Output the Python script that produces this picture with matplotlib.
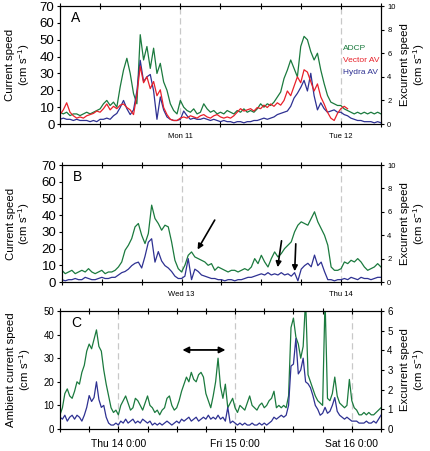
import numpy as np
import matplotlib
matplotlib.use('Agg')
import matplotlib.pyplot as plt

plt.rcParams['font.family'] = ['Liberation Sans', 'DejaVu Sans']
plt.rcParams['mathtext.default'] = 'regular'

GREEN = '#1b7a3e'
RED = '#e8212a'
BLUE = '#2e3192'

# all series sampled every 30 min, hours counted from the left edge of each panel
step = 0.5

# panel A: Sun 10 06:00 -> Tue 12 06:00
a_adcp = [7, 6, 7, 5, 6, 6, 5, 6, 7, 6, 7, 8,
          9, 12, 14, 11, 13, 10, 22, 32, 39, 30, 18, 12,
          53, 38, 46, 33, 45, 30, 36, 25, 20, 12, 8, 6,
          14, 10, 8, 7, 9, 6, 7, 12, 9, 7, 8, 6,
          7, 6, 8, 7, 6, 8, 7, 9, 7, 8, 7, 9,
          12, 10, 12, 11, 13, 16, 19, 27, 32, 38, 33, 28,
          46, 52, 50, 43, 38, 42, 32, 24, 17, 13, 12, 11,
          11, 9, 8, 7, 6, 7, 6, 7, 6, 7, 6, 7,
          6]
a_vector = [0.8, 1.2, 1.8, 1.0, 0.7, 0.5, 0.6, 0.5, 0.7, 0.8, 0.9, 1.1,
            1.0, 1.3, 1.7, 1.2, 1.5, 1.3, 1.6, 1.7, 1.4, 1.2, 0.8, 2.5,
            4.9, 3.5, 4.0, 3.0, 3.6, 2.4, 2.9, 1.4, 0.8, 0.4, 0.3, 0.3,
            0.5, 0.6, 0.5, 0.7, 0.6, 0.5, 0.7, 0.8, 0.6, 0.5, 0.7, 0.8,
            0.6, 0.5, 0.6, 0.5, 0.7, 1.0, 1.3, 1.1, 1.2, 1.3, 1.1, 1.4,
            1.3, 1.6, 1.4, 1.7, 1.5, 1.8, 1.6, 2.0, 2.8, 2.4, 3.2, 4.0,
            3.5, 4.6, 4.4, 3.6, 2.8, 3.4, 2.3, 1.7, 1.0, 0.5, 0.3, 0.9,
            1.3, 1.5, 1.3]
a_hydra = [0.4, 0.5, 0.4, 0.4, 0.3, 0.4, 0.3, 0.3, 0.3, 0.2, 0.3, 0.2,
           0.4, 0.4, 0.5, 0.4, 0.7, 0.9, 1.4, 2.0, 1.3, 0.8, 1.2, 2.8,
           5.4, 3.6, 4.0, 4.2, 2.8, 0.4, 2.3, 1.2, 0.6, 0.4, 0.3, 0.3,
           0.4, 1.1, 0.7, 0.4, 0.5, 0.4, 0.4, 0.5, 0.4, 0.3, 0.4, 0.3,
           0.2, 0.3, 0.2, 0.2, 0.1, 0.2, 0.2, 0.1, 0.2, 0.2, 0.3, 0.3,
           0.4, 0.5, 0.4, 0.5, 0.6, 0.8, 0.9, 1.0, 1.1, 1.5, 2.2, 2.6,
           3.1, 3.7, 2.8, 4.3, 2.4, 1.2, 1.8, 1.3, 1.0, 1.1, 1.2, 1.0,
           1.0, 0.8, 0.7, 0.5, 0.4, 0.3, 0.3, 0.2, 0.2, 0.2, 0.1, 0.2,
           0.1]

# panel B: Tue 12 06:00 -> Thu 14 06:00
b_adcp = [7, 5, 6, 7, 5, 6, 7, 6, 8, 6, 5, 6,
          7, 5, 6, 6, 7, 9, 12, 19, 22, 26, 33, 35,
          28, 23, 29, 46, 38, 35, 31, 34, 33, 24, 13, 8,
          6, 10, 16, 18, 15, 14, 13, 12, 10, 11, 7, 9,
          8, 7, 6, 7, 7, 6, 7, 8, 7, 9, 14, 11,
          16, 12, 9, 14, 18, 15, 17, 20, 22, 24, 30, 34,
          36, 35, 34, 38, 42, 36, 32, 28, 22, 9, 7, 7,
          8, 12, 11, 13, 12, 14, 12, 9, 7, 8, 9, 11,
          9]
b_hydra = [0.2, 0.1, 0.2, 0.2, 0.3, 0.2, 0.2, 0.4, 0.3, 0.2, 0.2, 0.3,
           0.4, 0.3, 0.3, 0.4, 0.4, 0.6, 0.8, 0.9, 1.1, 1.4, 1.6, 1.7,
           1.2, 2.2, 3.4, 3.7, 1.7, 2.6, 1.8, 1.4, 1.2, 0.9, 0.5, 0.3,
           0.3, 0.5, 2.0, 0.2, 1.1, 0.9, 0.6, 0.5, 0.4, 0.3, 0.3, 0.2,
           0.2, 0.1, 0.2, 0.2, 0.1, 0.2, 0.2, 0.3, 0.4, 0.4, 0.5, 0.6,
           0.7, 0.6, 0.8, 0.6, 0.7, 0.6, 0.8, 0.6, 0.7, 0.5, 0.8, 0.1,
           1.1, 1.4, 1.6, 1.3, 2.3, 1.4, 1.7, 0.9, 0.2, 0.2, 0.1, 0.2,
           0.2, 0.3, 0.2, 0.4, 0.3, 0.2, 0.4, 0.3, 0.3, 0.2, 0.3, 0.4,
           0.4]

# panel C: Wed 13 12:00 -> Sat 16 06:00
c_adcp = [6, 9, 15, 17, 14, 13, 16, 20, 19, 24, 27, 33,
          36, 34, 38, 42, 35, 33, 25, 19, 14, 9, 7, 8,
          6, 10, 12, 14, 11, 8, 9, 13, 12, 10, 8, 11,
          14, 10, 9, 7, 8, 6, 8, 9, 13, 14, 10, 8,
          9, 12, 16, 19, 22, 20, 24, 21, 20, 23, 24, 22,
          15, 12, 9, 14, 20, 30, 18, 13, 19, 9, 11, 13,
          9, 7, 10, 9, 8, 11, 14, 10, 9, 8, 10, 11,
          9, 10, 12, 13, 16, 9, 10, 9, 10, 9, 14, 43,
          47, 39, 36, 30, 35, 55, 23, 20, 17, 14, 12, 11,
          10, 55, 13, 12, 15, 22, 14, 11, 10, 9, 10, 21,
          12, 9, 8, 6, 6, 7, 6, 7, 6, 6, 7, 8,
          9]
c_hydra = [0.6, 0.5, 0.7, 0.4, 0.6, 0.7, 0.5, 0.7, 0.6, 0.4, 0.7, 1.1,
           1.7, 1.4, 1.6, 2.4, 1.5, 1.1, 1.2, 0.6, 0.3, 0.2, 0.2, 0.3,
           0.2, 0.4, 0.3, 0.5, 0.3, 0.4, 0.5, 0.3, 0.4, 0.3, 0.5, 0.4,
           0.3, 0.4, 0.2, 0.3, 0.2, 0.3, 0.2, 0.3, 0.4, 0.3, 0.2, 0.3,
           0.4, 0.3, 0.5, 0.4, 0.5, 0.6, 0.4, 0.5, 0.6, 0.4, 0.5, 0.6,
           0.5, 0.7, 0.5, 0.6, 0.5, 0.7, 0.5, 0.6, 0.4, 1.1, 0.3, 0.4,
           0.3, 0.2, 0.3, 0.2, 0.3, 0.2, 0.2, 0.3, 0.2, 0.2, 0.3, 0.2,
           0.3, 0.2, 0.3, 0.4, 0.6, 0.5, 0.6, 0.7, 0.6, 0.7, 1.2, 3.2,
           3.3, 4.6, 2.8, 3.0, 3.6, 2.4, 2.3, 2.1, 1.7, 1.2, 1.0, 0.7,
           0.8, 1.1, 0.8, 0.9, 1.2, 1.6, 0.9, 0.7, 0.6, 0.5, 0.6, 0.5,
           0.4, 0.4, 0.4, 0.3, 0.3, 0.3, 0.4, 0.3, 0.3, 0.4, 0.3, 0.5,
           0.7]

a_labels = ['', '', '', 'Mon 11', '', '', '', 'Tue 12', '']
b_labels = ['', '', '', 'Wed 13', '', '', '', 'Thu 14', '']
c_labels = ['', '', 'Thu 14 0:00', '', '', '', 'Fri 15 0:00', '', '', '', 'Sat 16 0:00', '']
a_days = [18, 42]
b_days = [18, 42]
c_days = [12, 36, 60]


def hours(vals):
    return np.arange(len(vals)) * step


def setup(ax, ax2, span, labels, days, ymax, y2max, ysize, xsize, y2size, letter, lbl, lx, rx):
    ax.set_xlim(0, span)
    ax.set_ylim(0, ymax)
    ax2.set_ylim(0, y2max)
    for d in days:
        ax.axvline(d, color='#c8c8c8', lw=0.9, ls=(0, (5, 3)), zorder=0)
    ax.set_xticks(np.arange(0, span + 0.1, 6))
    ax.set_xticklabels(labels, fontsize=xsize)
    ax.tick_params(axis='x', direction='inout', length=5, width=0.8,
                   pad=4 if xsize < 7 else 5, top=True)
    ax.tick_params(axis='y', direction='out', length=2.5, width=0.8, labelsize=ysize, pad=1.5)
    ax2.tick_params(axis='y', direction='out', length=2, width=0.8, labelsize=y2size, pad=2.5)
    ax.text(0.035, 0.9, letter, transform=ax.transAxes, fontsize=10, va='center')
    ax.set_ylabel(lbl + '\n(cm s$^{-1}$)', fontsize=8.2, linespacing=1.05)
    ax.yaxis.set_label_coords(lx, 0.5)
    ax2.set_ylabel('Excurrent speed\n(cm s$^{-1}$)', fontsize=8.2, linespacing=1.05, rotation=90)
    ax2.yaxis.set_label_coords(rx, 0.5)
    for a in (ax, ax2):
        for s in a.spines.values():
            s.set_linewidth(0.8)


fig = plt.figure(figsize=(4.30, 4.51), dpi=100)

# ---- A
axA = fig.add_axes([0.1395, 0.725, 0.7465, 0.2616])
axA2 = axA.twinx()
axA.plot(hours(a_adcp), a_adcp, color=GREEN, lw=0.9)
axA2.plot(hours(a_hydra), a_hydra, color=BLUE, lw=0.9)
axA2.plot(hours(a_vector), a_vector, color=RED, lw=0.9)
setup(axA, axA2, 48, a_labels, a_days, 70, 10, 9.5, 5.5, 5.5, 'A', 'Current speed', -0.088, 1.06)
axA.set_yticks(range(0, 71, 10))
axA2.set_yticks(range(0, 11, 2))
axA.text(0.882, 0.644, 'ADCP', color=GREEN, transform=axA.transAxes, fontsize=6, va='center')
axA.text(0.882, 0.542, 'Vector AV', color=RED, transform=axA.transAxes, fontsize=6, va='center')
axA.text(0.882, 0.44, 'Hydra AV', color=BLUE, transform=axA.transAxes, fontsize=6, va='center')

# ---- B
axB = fig.add_axes([0.144, 0.3747, 0.742, 0.2594])
axB2 = axB.twinx()
axB.plot(hours(b_adcp), b_adcp, color=GREEN, lw=0.9)
axB2.plot(hours(b_hydra), b_hydra, color=BLUE, lw=0.9)
setup(axB, axB2, 48, b_labels, b_days, 70, 10, 9.5, 5.5, 5.5, 'B', 'Current speed', -0.094, 1.06)
axB.set_yticks(range(0, 71, 10))
axB2.set_yticks(range(0, 11, 2))
arrow = dict(arrowstyle='-|>', color='black', lw=1.2, mutation_scale=8)
axB.annotate('', xy=(20.2, 18), xytext=(23.2, 38.5), arrowprops=arrow)
axB.annotate('', xy=(32.4, 7.2), xytext=(33.1, 26.3), arrowprops=arrow)
axB.annotate('', xy=(35.0, 4.8), xytext=(35.2, 24.5), arrowprops=arrow)

# ---- C
axC = fig.add_axes([0.1395, 0.0488, 0.7465, 0.2616])
axC2 = axC.twinx()
axC.plot(hours(c_adcp), c_adcp, color=GREEN, lw=0.9)
axC2.plot(hours(c_hydra), c_hydra, color=BLUE, lw=0.9)
setup(axC, axC2, 66, c_labels, c_days, 50, 6, 7, 7.5, 7, 'C', 'Ambient current speed', -0.085, 1.06)
axC.set_yticks(range(0, 51, 10))
axC2.set_yticks(range(0, 7, 1))
axC.annotate('', xy=(34.6, 33.5), xytext=(24.6, 33.5),
             arrowprops=dict(arrowstyle='<|-|>', color='black', lw=1.3, mutation_scale=9))

fig.savefig('out.png', dpi=100)
